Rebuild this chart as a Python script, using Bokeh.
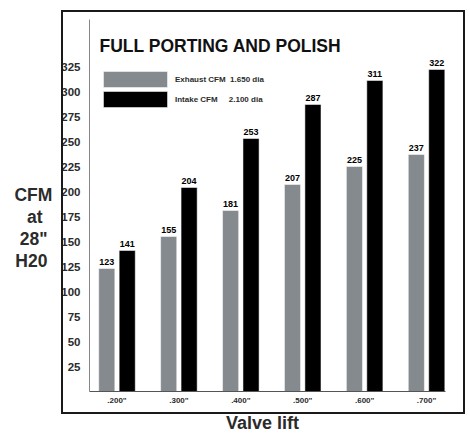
from bokeh.plotting import figure
from bokeh.layouts import column
from bokeh.models import (Range1d, FixedTicker, ColumnDataSource, Label,
                          Legend, LegendItem, InlineStyleSheet, Div)
from bokeh.transform import dodge
from bokeh.core.properties import value
from bokeh.embed import file_html
from bokeh.resources import INLINE

# ---- data ----
lifts = ['.200"', '.300"', '.400"', '.500"', '.600"', '.700"']
exhaust = [123, 155, 181, 207, 225, 237]
intake = [141, 204, 253, 287, 311, 322]
y_ticks = [25, 50, 75, 100, 125, 150, 175, 200, 225, 250, 275, 300, 325]
title_text = "FULL PORTING AND POLISH"
exhaust_label = "Exhaust CFM\u00a0\u00a01.650 dia"
intake_label = "Intake CFM\u00a0\u00a0\u00a0\u00a0\u00a02.100 dia"
y_label_lines = ["CFM", "at", '28"', "H20"]
x_label = "Valve lift"

FONT = value("Liberation Sans")
GRAY = "#858a8f"
DARK = "#2b2b2b"
NB = "\u00a0"

idx = list(range(len(lifts)))
src = ColumnDataSource(dict(
    x=idx, exhaust=exhaust, intake=intake,
    ex_lbl=[str(v) for v in exhaust], in_lbl=[str(v) for v in intake]))

p = figure(width=470, height=414, output_backend="svg", toolbar_location=None,
           x_range=Range1d(-0.444, 5.306), y_range=Range1d(0, 372),
           min_border_left=89, min_border_right=25, min_border_top=19,
           min_border_bottom=23)
p.outline_line_color = None
p.grid.visible = False
p.background_fill_color = "white"
p.border_fill_color = "white"

r_ex = p.vbar(x=dodge('x', -0.165), top='exhaust', width=0.26, source=src,
              fill_color=GRAY, line_color="white", line_width=0.5)
r_in = p.vbar(x=dodge('x', 0.165), top='intake', width=0.26, source=src,
              fill_color="black", line_color="white", line_width=0.5)

p.text(x=dodge('x', -0.165), y='exhaust', text='ex_lbl', source=src,
       y_offset=-7, text_align='center', text_baseline='middle',
       text_font=FONT, text_font_style='bold', text_font_size='9px',
       text_color="black")
p.text(x=dodge('x', 0.165), y='intake', text='in_lbl', source=src,
       y_offset=-7, text_align='center', text_baseline='middle',
       text_font=FONT, text_font_style='bold', text_font_size='9px',
       text_color="black")

# x axis
p.xaxis.ticker = FixedTicker(ticks=idx)
p.xaxis.major_label_overrides = {i: lab for i, lab in zip(idx, lifts)}
p.xaxis.major_tick_line_color = None
p.xaxis.minor_tick_line_color = None
p.xaxis.axis_line_color = "#555555"
p.xaxis.major_label_text_font = "Liberation Sans"
p.xaxis.major_label_text_font_style = "bold"
p.xaxis.major_label_text_font_size = "8px"
p.xaxis.major_label_text_color = DARK
p.xaxis.major_label_standoff = -2

# y axis
p.yaxis.ticker = FixedTicker(ticks=y_ticks)
p.yaxis.major_tick_line_color = None
p.yaxis.minor_tick_line_color = None
p.yaxis.axis_line_color = "#888888"
p.yaxis.major_label_text_font = "Liberation Sans"
p.yaxis.major_label_text_font_style = "bold"
p.yaxis.major_label_text_font_size = "11.5px"
p.yaxis.major_label_text_color = DARK
p.yaxis.major_label_standoff = 3
# lines padded so that they sit centred under each other
padded = [y_label_lines[0], y_label_lines[1] + NB * 2,
          y_label_lines[2] + NB, y_label_lines[3] + NB]
p.yaxis.axis_label = NB + "\n" + NB + "\n" + "\n".join(padded)
p.yaxis.axis_label_orientation = "horizontal"
p.yaxis.axis_label_standoff = 6
p.yaxis.axis_label_text_font = "Liberation Sans"
p.yaxis.axis_label_text_font_style = "bold"
p.yaxis.axis_label_text_font_size = "17.5px"
p.yaxis.axis_label_text_line_height = 1.1
p.yaxis.axis_label_text_color = DARK

# legend
legend = Legend(items=[LegendItem(label=exhaust_label, renderers=[r_ex]),
                       LegendItem(label=intake_label, renderers=[r_in])],
                location=(6, 282), orientation="vertical",
                glyph_width=80, glyph_height=20, label_height=20,
                spacing=0, padding=0, margin=0, label_standoff=0,
                border_line_color=None, background_fill_alpha=0,
                label_text_font="Liberation Sans", label_text_font_style="bold",
                label_text_font_size="8px", label_text_color=DARK)
p.add_layout(legend)

# title
p.add_layout(Label(x=10, y=346, x_units='screen', y_units='screen',
                   text=title_text, text_font="Liberation Sans",
                   text_font_style="bold", text_font_size="17.5px",
                   text_color="#111111", text_baseline="middle"))

# outer frame border (decoration)
p.stylesheets = [InlineStyleSheet(css=""":host::after {
  content: ""; position: absolute; left: 61px; top: 10px;
  width: 404px; height: 404px; box-sizing: border-box;
  border: 2px solid #1a1a1a; pointer-events: none; }""")]

# x axis title below the framed chart
xdiv = Div(text=x_label, width=470, height=19,
           styles={"font-family": "'Liberation Sans'", "font-weight": "bold",
                   "font-size": "18px", "color": DARK, "line-height": "8px",
                   "padding-top": "0px", "padding-left": "221px",
                   "white-space": "nowrap", "box-sizing": "border-box",
                   "overflow": "visible"})

layout = column(p, xdiv, spacing=0)
open("out.html", "w").write(file_html(layout, INLINE))
